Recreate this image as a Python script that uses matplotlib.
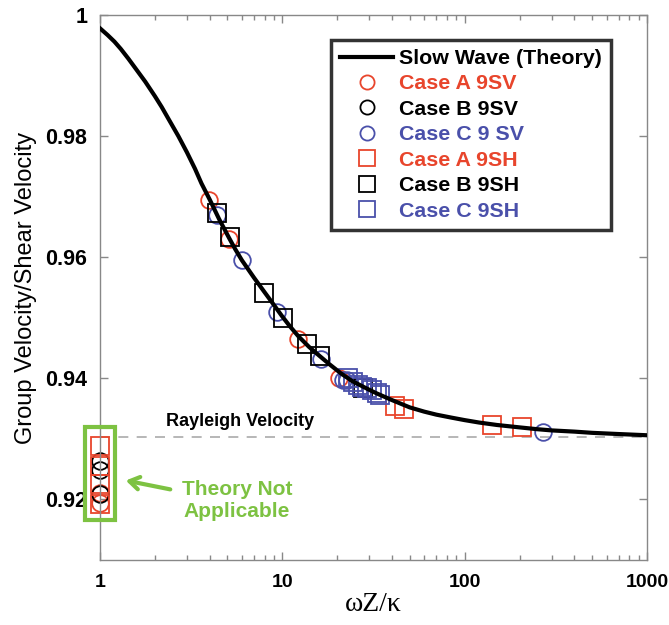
import matplotlib
matplotlib.use('Agg')
import matplotlib.pyplot as plt
from matplotlib.patches import Rectangle

plt.rcParams['font.family'] = ['Liberation Sans', 'DejaVu Sans']
plt.rcParams['font.weight'] = 'bold'

# theory curve (slow wave)
theory_x = [1, 1.1, 1.2, 1.3, 1.43, 1.6, 1.77, 2.0, 2.18, 2.4, 2.69, 3.0, 3.32, 3.6, 4.0, 4.5,
            5.1, 5.5, 6.0, 7.0, 8.0, 9.0, 10, 11, 12.2, 14, 16, 18, 21, 24, 27, 30, 33, 40,
            50, 60, 70, 85, 100, 120, 150, 200, 250, 300, 400, 500, 700, 1000]
theory_y = [0.9978, 0.9967, 0.9956, 0.9944, 0.9928, 0.9908, 0.9890, 0.9866, 0.9848, 0.9826,
            0.9800, 0.9773, 0.9746, 0.9722, 0.9695, 0.9663, 0.9632, 0.9614, 0.9595, 0.9566,
            0.9542, 0.9521, 0.9502, 0.9486, 0.9470, 0.9452, 0.9437, 0.9424, 0.9408, 0.9396,
            0.9388, 0.9381, 0.9375, 0.9364, 0.9352, 0.9345, 0.9340, 0.9335, 0.9331, 0.9327,
            0.9323, 0.9319, 0.9316, 0.9314, 0.9312, 0.9310, 0.9308, 0.9306]
rayleigh = 0.9303

# SV cases (circles)
a_sv_x = [1, 1, 3.98, 5.12, 12.2, 20.5]
a_sv_y = [0.9211, 0.9194, 0.9695, 0.9630, 0.9465, 0.9401]
b_sv_x = [1, 1, 1]
b_sv_y = [0.9263, 0.9248, 0.9209]
c_sv_x = [4.4, 5.98, 9.39, 16.2, 21.6, 22.6, 270]
c_sv_y = [0.9670, 0.9595, 0.9509, 0.9432, 0.9398, 0.9397, 0.9312]

# SH cases (squares)
a_sh_x = [1, 1, 1, 1, 41.5, 46.5, 140.8, 205.7]
a_sh_y = [0.9288, 0.9255, 0.9225, 0.9193, 0.9354, 0.9350, 0.9323, 0.9319]
b_sh_x = [4.37, 5.17, 7.97, 10.1, 13.6, 16.0, 27.6]
b_sh_y = [0.9673, 0.9634, 0.9541, 0.9500, 0.9457, 0.9437, 0.9384]
c_sh_x = [23.0, 24.5, 26.1, 27.2, 29.0, 30.9, 32.9, 34.3]
c_sh_y = [0.9400, 0.9394, 0.9389, 0.9386, 0.9384, 0.9381, 0.9375, 0.9373]

red = '#e8452c'
blue = '#4a50aa'
green = '#7dc242'

fig = plt.figure(figsize=(6.69, 6.25), dpi=100)
ax = fig.add_axes([100 / 669, 65 / 625, 547 / 669, 545 / 625])

ax.plot([1, 1000], [rayleigh, rayleigh], '--', color='#aaaaaa', lw=1.2, dashes=(6, 5), zorder=1)

mk = dict(ls='none', mfc='none', mew=1.3, clip_on=False)
ax.plot(a_sv_x, a_sv_y, 'o', ms=12, mec=red, label='Case A 9SV', **mk)
ax.plot(b_sv_x, b_sv_y, 'o', ms=12, mec='black', label='Case B 9SV', **mk)
ax.plot(c_sv_x, c_sv_y, 'o', ms=12, mec=blue, label='Case C 9 SV', **mk)
ax.plot(a_sh_x, a_sh_y, 's', ms=13, mec=red, label='Case A 9SH', **mk)
ax.plot(b_sh_x, b_sh_y, 's', ms=13, mec='black', label='Case B 9SH', **mk)
ax.plot(c_sh_x, c_sh_y, 's', ms=13, mec=blue, label='Case C 9SH', **mk)
ax.plot(theory_x, theory_y, '-', color='black', lw=3, label='Slow Wave (Theory)', zorder=5,
        solid_joinstyle='round')

ax.set_xscale('log')
ax.set_xlim(1, 1000)
ax.set_ylim(0.91, 1.0)
ax.set_xticks([1, 10, 100, 1000])
ax.set_xticklabels(['1', '10', '100', '1000'])
ax.set_yticks([0.92, 0.94, 0.96, 0.98, 1.0])
ax.set_yticklabels(['0.92', '0.94', '0.96', '0.98', '1'])
ax.tick_params(which='major', direction='in', length=6, width=1, color='#888888',
               top=True, right=True)
ax.tick_params(axis='x', which='major', pad=10, labelsize=14)
ax.tick_params(axis='y', which='major', pad=9, labelsize=15.5)
ax.tick_params(which='minor', direction='in', length=3.5, width=1, color='#888888',
               top=True, right=True)
for s in ax.spines.values():
    s.set_color('#888888')
    s.set_linewidth(1)

ax.set_xlabel('ωZ/κ', family='Liberation Serif', fontweight='normal', fontsize=20, labelpad=1)
ax.set_ylabel('Group Velocity/Shear Velocity', fontsize=17, labelpad=6)

ax.text(5.86, 0.9328, 'Rayleigh Velocity', ha='center', va='center', fontsize=13)

# green box around the x=1 points and its note
ax.add_patch(Rectangle((0.827, 0.9166), 1.208 - 0.827, 0.9320 - 0.9166, fill=False,
                       ec=green, lw=3, clip_on=False, zorder=6))
ax.annotate('', xy=(1.337, 0.92322), xytext=(2.514, 0.92157),
            arrowprops=dict(arrowstyle='->,head_length=0.7,head_width=0.45', color=green, lw=3))
ax.text(5.64, 0.91975, 'Theory Not\nApplicable', ha='center', va='center', color=green,
        fontsize=15, linespacing=1.2)

handles, labels = ax.get_legend_handles_labels()
order = [6, 0, 1, 2, 3, 4, 5]
leg = ax.legend([handles[i] for i in order], [labels[i] for i in order], loc='upper left',
                bbox_to_anchor=(0.422, 0.954), borderaxespad=0, fontsize=15.4, markerscale=0.85,
                handlelength=2.5, labelspacing=0.3, handletextpad=0.27, borderpad=0.42,
                frameon=True, fancybox=False, edgecolor='black')
leg.get_frame().set_linewidth(2.5)
for t, c in zip(leg.get_texts(), ['black', red, 'black', blue, red, 'black', blue]):
    t.set_color(c)

fig.savefig('out.png', dpi=100)
